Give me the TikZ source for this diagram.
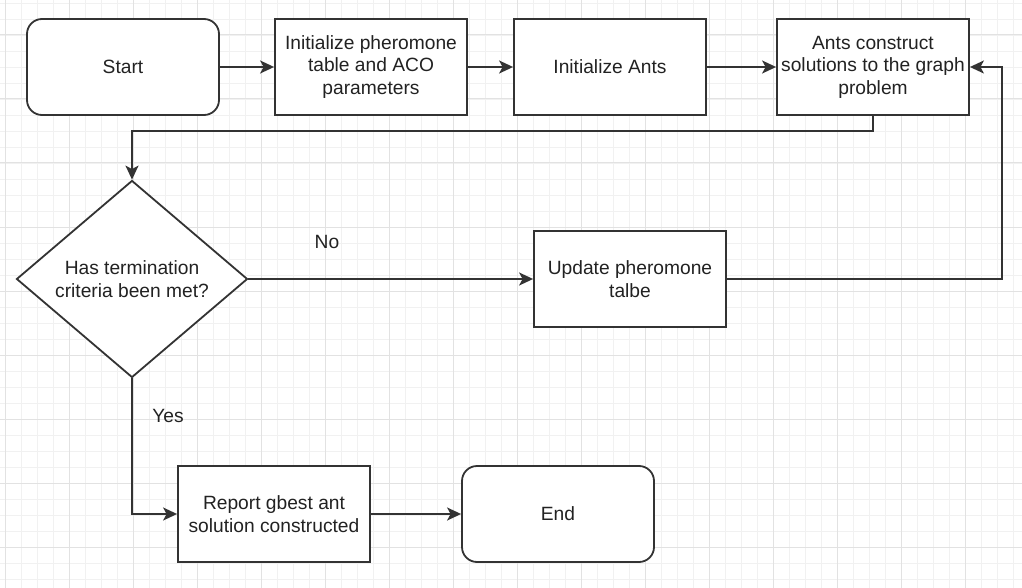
\documentclass[tikz,border=0pt]{standalone}
\usepackage{fontspec}
\setmainfont{Liberation Sans}
\usetikzlibrary{arrows.meta,shapes.geometric}

\definecolor{inkline}{HTML}{333333}
\definecolor{inktext}{HTML}{222222}
\definecolor{gridminor}{HTML}{F1F1F1}
\definecolor{gridmajor}{HTML}{E2E2E2}

\tikzset{
  every node/.style={font=\fontsize{19.2}{22.6}\selectfont, text=inktext},
  procbox/.style={draw=inkline, line width=1.8pt, fill=white, rectangle,
    minimum width=192pt, minimum height=96pt, inner sep=0pt, align=center},
  termbox/.style={procbox, rounded corners=15pt},
  decbox/.style={draw=inkline, line width=1.8pt, fill=white, diamond,
    minimum width=231pt, minimum height=197pt, inner sep=0pt, align=center},
  flow/.style={draw=inkline, line width=1.8pt,
    -{Stealth[length=14pt, width=13pt, inset=3.5pt]}},
  edgelabel/.style={inner sep=0pt},
}

\begin{document}
\begin{tikzpicture}[x=1pt, y=1pt]
  \useasboundingbox (0,0) rectangle (1022,-588);
  \fill[white] (0,0) rectangle (1022,-588);

  % background grid: fine lines every 16, heavier every 64
  \foreach \gx in {5,21,...,1021} \draw[gridminor, line width=0.9pt] (\gx,0) -- (\gx,-588);
  \foreach \gy in {3,19,...,587} \draw[gridminor, line width=0.9pt] (0,-\gy) -- (1022,-\gy);
  \foreach \gx in {5,69,...,1021} \draw[gridmajor, line width=1pt] (\gx,0) -- (\gx,-588);
  \foreach \gy in {35,99,...,587} \draw[gridmajor, line width=1pt] (0,-\gy) -- (1022,-\gy);

  % flow chart nodes
  \node[termbox] (start) at (123,-67) {Start};
  \node[procbox] (init) at (371,-67) {Initialize pheromone\\table and ACO\\parameters};
  \node[procbox] (ants) at (610,-67) {Initialize Ants};
  \node[procbox] (construct) at (873,-67) {Ants construct\\solutions to the graph\\problem};
  \node[decbox] (check) at (132,-279) {Has termination\\criteria been met?};
  \node[procbox] (update) at (630,-279) {Update pheromone\\talbe};
  \node[procbox] (report) at (274,-514) {Report gbest ant\\solution constructed};
  \node[termbox] (finish) at (558,-514) {End};

  \coordinate (loopcorner) at (1002,-279);

  % connectors
  \draw[flow] (start.east) -- (init.west);
  \draw[flow] (init.east) -- (ants.west);
  \draw[flow] (ants.east) -- (construct.west);
  \draw[flow] (construct.south) -- ++(0,-15) -| (check.north);
  \draw[flow] (check.east) -- (update.west);
  \draw[flow] (update.east) -- (loopcorner) |- (construct.east);
  \draw[flow] (check.south) |- (report.west);
  \draw[flow] (report.east) -- (finish.west);

  % branch labels
  \node[edgelabel] (nolabel) at (327,-242) {No};
  \node[edgelabel] (yeslabel) at (168,-416) {Yes};
\end{tikzpicture}
\end{document}
